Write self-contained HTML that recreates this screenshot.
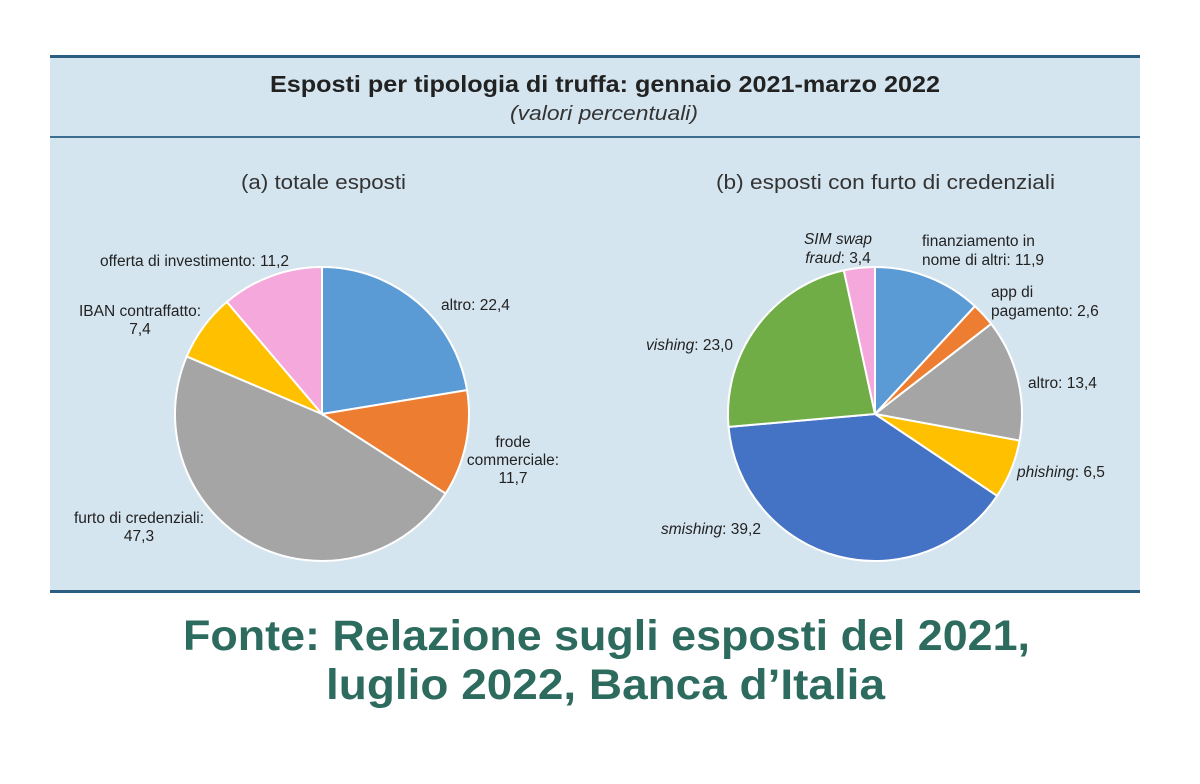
<!DOCTYPE html>
<html><head><meta charset="utf-8"><style>
body{margin:0;background:#fff;width:1200px;height:779px;overflow:hidden;font-family:"Liberation Sans",Arial,sans-serif}
</style></head><body>
<svg id="s" width="1200" height="779" xmlns="http://www.w3.org/2000/svg" font-family="Liberation Sans, Arial, sans-serif">
<rect x="50" y="57" width="1090" height="535" fill="#d5e5ef"/>
<rect x="50" y="55" width="1090" height="3" fill="#2b5d80"/>
<rect x="50" y="136" width="1090" height="2" fill="#3d6d8f"/>
<rect x="50" y="590" width="1090" height="3" fill="#2b5d80"/>
<text x="270" y="92" textLength="670" lengthAdjust="spacingAndGlyphs" font-size="23" font-weight="bold" fill="#222">Esposti per tipologia di truffa: gennaio 2021-marzo 2022</text>
<text x="510" y="120" textLength="188" lengthAdjust="spacingAndGlyphs" font-size="20" font-style="italic" fill="#333">(valori percentuali)</text>
<text x="241" y="189" textLength="165" lengthAdjust="spacingAndGlyphs" font-size="20" fill="#333">(a) totale esposti</text>
<text x="716" y="189" textLength="339" lengthAdjust="spacingAndGlyphs" font-size="20" fill="#333">(b) esposti con furto di credenziali</text>
<g id="pa"></g><g id="pb"></g>
<g font-size="15.5" fill="#222">
<text x="289" y="266" text-anchor="end">offerta di investimento: 11,2</text>
<text x="140" y="316" text-anchor="middle">IBAN contraffatto:</text>
<text x="140" y="334" text-anchor="middle">7,4</text>
<text x="441" y="310">altro: 22,4</text>
<text x="513" y="447" text-anchor="middle">frode</text>
<text x="513" y="465" text-anchor="middle">commerciale:</text>
<text x="513" y="483" text-anchor="middle">11,7</text>
<text x="139" y="523" text-anchor="middle">furto di credenziali:</text>
<text x="139" y="541" text-anchor="middle">47,3</text>
<text x="838" y="244" text-anchor="middle" font-style="italic">SIM swap</text>
<text x="838" y="263" text-anchor="middle"><tspan font-style="italic">fraud</tspan>: 3,4</text>
<text x="922" y="246">finanziamento in</text>
<text x="922" y="265">nome di altri: 11,9</text>
<text x="991" y="297">app di</text>
<text x="991" y="316">pagamento: 2,6</text>
<text x="1028" y="388">altro: 13,4</text>
<text x="1017" y="477"><tspan font-style="italic">phishing</tspan>: 6,5</text>
<text x="646" y="350"><tspan font-style="italic">vishing</tspan>: 23,0</text>
<text x="661" y="534"><tspan font-style="italic">smishing</tspan>: 39,2</text>
</g>
<text x="183" y="650" textLength="847" lengthAdjust="spacingAndGlyphs" font-size="43" font-weight="bold" fill="#2d6b5f">Fonte: Relazione sugli esposti del 2021,</text>
<text x="326" y="699" textLength="559" lengthAdjust="spacingAndGlyphs" font-size="43" font-weight="bold" fill="#2d6b5f">luglio 2022, Banca d’Italia</text>
</svg>
<script>
function pie(id,cx,cy,r,data){
 var g=document.getElementById(id),a=0,h='';
 data.forEach(function(d){
  var a0=a/100*2*Math.PI;a+=d[0];var a1=a/100*2*Math.PI;
  var x0=cx+r*Math.sin(a0),y0=cy-r*Math.cos(a0),x1=cx+r*Math.sin(a1),y1=cy-r*Math.cos(a1);
  h+='<path d="M'+cx+','+cy+'L'+x0+','+y0+'A'+r+','+r+' 0 '+(d[0]>50?1:0)+' 1 '+x1+','+y1+'Z" fill="'+d[1]+'" stroke="#fff" stroke-width="2"/>';
 });
 g.innerHTML=h;
}
pie('pa',322,414,147,[[22.4,'#5b9bd5'],[11.7,'#ed7d31'],[47.3,'#a5a5a5'],[7.4,'#ffc000'],[11.2,'#f5a8dc']]);
pie('pb',875,414,147,[[11.9,'#5b9bd5'],[2.6,'#ed7d31'],[13.4,'#a5a5a5'],[6.5,'#ffc000'],[39.2,'#4472c4'],[23.0,'#70ad47'],[3.4,'#f5a8dc']]);
</script>
</body></html>
